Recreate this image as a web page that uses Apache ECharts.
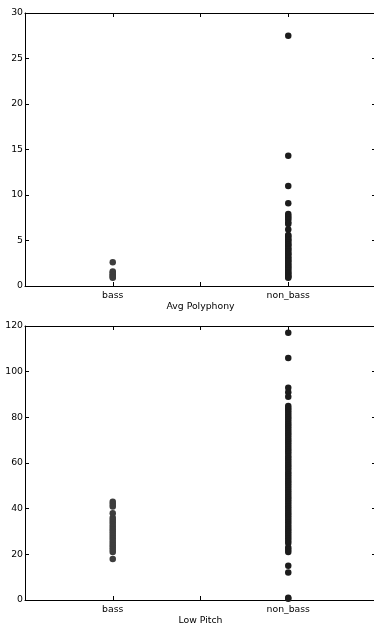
<!DOCTYPE html>
<html>
<head>
<meta charset="utf-8">
<script src="https://cdn.jsdelivr.net/npm/echarts@6/dist/echarts.min.js"></script>
<style>
html,body{margin:0;padding:0;background:#fff;}
#chart{width:374px;height:628px;}
</style>
</head>
<body>
<div id="chart"></div>
<script>
const categories = ['bass', 'non_bass'];
const polyBass = [2.6, 1.6, 1.45, 1.3, 1.15, 1.0, 0.9];
const polyNonBass = [27.5, 14.3, 11.0, 9.1, 7.9, 7.7, 7.5, 7.3, 7.0, 6.8, 6.2,
  5.6, 5.5, 5.3, 5.1, 5.0, 4.8, 4.6, 4.5, 4.3, 4.1, 4.0, 3.8, 3.6, 3.5, 3.3, 3.1,
  3.0, 2.8, 2.7, 2.5, 2.3, 2.2, 2.0, 1.9, 1.7, 1.5, 1.4, 1.2, 1.1, 1.0, 0.9];
const pitchBass = [43, 42, 41, 38, 36, 35, 34, 33, 32, 31, 30, 29, 28, 27, 26, 25, 24, 23, 22, 21, 18];
const pitchNonBass = [117, 106, 93, 91, 89, 85, 84, 83, 82, 81, 80, 79, 78, 77, 76, 75, 74, 73, 72, 71, 70,
  69, 68, 67, 66, 65, 64, 63, 62, 61, 60, 59, 58, 57, 56, 55, 54, 53, 52, 51, 50,
  49, 48, 47, 46, 45, 44, 43, 42, 41, 40, 39, 38, 37, 36, 35, 34, 33, 32, 31, 30,
  29, 28, 27, 26, 25, 23, 22, 21, 15, 12, 1, 0.5];
const polyTicks = {min: 0, max: 30, interval: 5};
const pitchTicks = {min: 0, max: 120, interval: 20};
const panelNames = ['Avg Polyphony', 'Low Pitch'];

const font = 'DejaVu Sans';
const lineStyle = {color: '#000', width: 1};
const tickStyle = {show: true, inside: true, length: 4, lineStyle: {color: '#000', width: 1}};

function catLabel(v) {
  if (Math.abs(v - 1) < 1e-9) return categories[0];
  if (Math.abs(v - 2) < 1e-9) return categories[1];
  return '';
}

const grids = [
  {left: 25, top: 13, width: 351, height: 273, outerBoundsMode: 'none', containLabel: false},
  {left: 25, top: 326, width: 351, height: 274, outerBoundsMode: 'none', containLabel: false}
];

const xAxes = [], yAxes = [];
[0, 1].forEach(i => {
  xAxes.push({
    type: 'value', gridIndex: i, position: 'bottom', min: 0.5, max: 2.5, interval: 0.5,
    axisLine: {show: true, onZero: false, lineStyle},
    axisTick: tickStyle, splitLine: {show: false},
    axisLabel: {formatter: catLabel, color: '#000', fontFamily: font, fontSize: 9.3, margin: 5},
    name: panelNames[i], nameLocation: 'middle', nameGap: 16,
    nameTextStyle: {color: '#000', fontFamily: font, fontSize: 9.3}
  });
  xAxes.push({
    type: 'value', gridIndex: i, position: 'top', min: 0.5, max: 2.5, interval: 0.5,
    axisLine: {show: true, onZero: false, lineStyle},
    axisTick: tickStyle, splitLine: {show: false}, axisLabel: {show: false}
  });
  const t = i === 0 ? polyTicks : pitchTicks;
  yAxes.push({
    type: 'value', gridIndex: i, position: 'left', min: t.min, max: t.max, interval: t.interval,
    axisLine: {show: true, onZero: false, lineStyle},
    axisTick: tickStyle, splitLine: {show: false},
    axisLabel: {color: '#000', fontFamily: font, fontSize: 9.3, margin: 2}
  });
  yAxes.push({
    type: 'value', gridIndex: i, position: 'right', min: t.min, max: t.max, interval: t.interval,
    axisLine: {show: true, onZero: false, lineStyle},
    axisTick: tickStyle, splitLine: {show: false}, axisLabel: {show: false}
  });
});

function mk(xi, yi, vals, catIdx, color) {
  return {
    type: 'scatter', xAxisIndex: xi, yAxisIndex: yi, symbolSize: 6.5,
    itemStyle: {color: color, opacity: 1},
    data: vals.map(v => [catIdx + 1, v]), silent: true, animation: false
  };
}

const chart = echarts.init(document.getElementById('chart'), null, {renderer: 'canvas'});
chart.setOption({
  animation: false,
  backgroundColor: '#fff',
  grid: grids,
  xAxis: xAxes,
  yAxis: yAxes,
  series: [
    mk(0, 0, polyBass, 0, '#3d3d3d'),
    mk(0, 0, polyNonBass, 1, '#1c1c1c'),
    mk(2, 2, pitchBass, 0, '#3d3d3d'),
    mk(2, 2, pitchNonBass, 1, '#1c1c1c')
  ]
});
</script>
</body>
</html>
